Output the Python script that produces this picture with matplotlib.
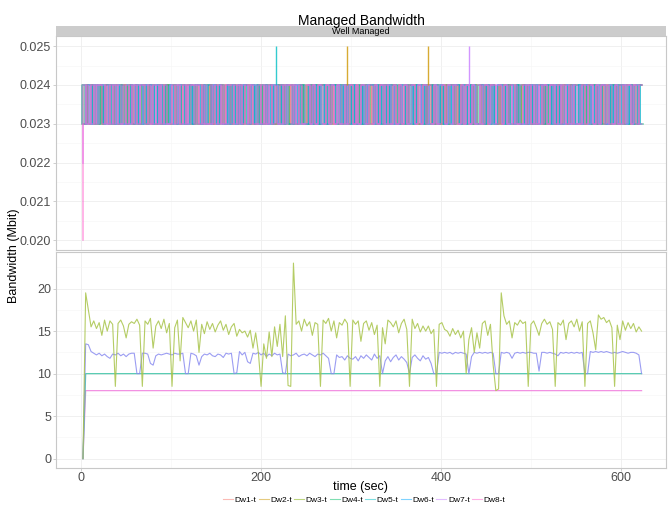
#!/usr/bin/env python3
import numpy as np
import matplotlib
matplotlib.use("Agg")
import matplotlib.pyplot as plt

plt.rcParams["font.family"] = ["Liberation Sans", "DejaVu Sans"]

# sample times (sec), one sample every 3 s
t = np.arange(2, 626, 3)

names = ["Dw1-t", "Dw2-t", "Dw3-t", "Dw4-t", "Dw5-t", "Dw6-t", "Dw7-t", "Dw8-t"]
colors = ["#F8766D", "#CD9600", "#7CAE00", "#00BE67",
          "#00BFC4", "#00A9FF", "#C77CFF", "#FF61CC"]

# first sample time of each logger in the top panel (sec)
top_start = [1.0, 2.5, 1.8, 3.2, 1.4, 2.9, 2.3, 2.0]

# top panel: bandwidth level per sample
# '0' = 0.023, '1' = 0.024, 'a' = 0.020, 'b' = 0.022
levels = {"0": 0.023, "1": 0.024, "a": 0.020, "b": 0.022}
top_codes = [
    ("0101101010" "1010010101" "0110101001" "0101011010" "1001010110" "1010101001" "0110100101"
     "0101101010" "1010010101" "1001011010" "1010100101" "0110101010" "0101100101" "1010101001"
     "0101010110" "1001010101" "1010110100" "1010010101" "0101101010" "1010100101" "01011010"),
    ("0010110101" "0101101010" "1001010110" "1010100101" "0110101010" "0101011010" "1010010101"
     "1001101010" "0101010101" "1010110110" "1010010101" "0110101010" "1001011010" "1010100101"
     "0101101010" "1010010110" "0101101001" "1010101010" "0110010101" "1001101010" "10100101"),
    ("0110100101" "1001011010" "0101101001" "1010010110" "0101101010" "1010010101" "0110101001"
     "1001010110" "0110101010" "0101100101" "1010101001" "0101011010" "1010100101" "0110010110"
     "1001101001" "0110010101" "1010101010" "0101100101" "1010011010" "0101010110" "01101001"),
    ("0011010101" "1010100110" "1001011010" "0101101001" "1010010101" "0110101010" "1001010110"
     "0110101001" "1010010101" "0101101010" "1001010110" "1010101001" "0110101010" "1001010101"
     "0110100110" "1010011010" "0101010101" "1010101001" "0101100110" "1010010101" "10010110"),
    ("0101011010" "0110100101" "1010101010" "1001010110" "0101101001" "1010010101" "0101101010"
     "1010101001" "0110010101" "1001101010" "0101010110" "1010100101" "1001011010" "0110100101"
     "1010101001" "0101011010" "1010010101" "0110101010" "1001010101" "0101101010" "10101001"),
    ("0010101101" "0101010010" "1010110101" "0101001010" "1011010101" "0100101010" "1101010010"
     "1010101101" "0100101010" "1011010101" "0100101101" "0101010010" "1010110101" "0101001011"
     "0101010010" "1010110101" "0100101010" "1011010100" "1010101101" "0101001010" "11010101"),
    ("b101010110" "1010100101" "0101101010" "1001010101" "0110101001" "0101011010" "1010100101"
     "0110010110" "1001101010" "0101010101" "1010101001" "0110101010" "1001010110" "0101101010"
     "0101010101" "1010110100" "1001010101" "0110101010" "1010010101" "0101101010" "01010110"),
    ("a010101101" "0101001010" "1011010101" "0100101010" "1101010010" "1010110101" "0101001010"
     "1010101101" "0100101011" "0101010010" "1010110101" "0101001010" "1011010101" "0100101101"
     "0101010010" "1011010101" "0100101010" "1010110101" "0101001011" "0101010010" "10110101"),
]

# short peaks to 0.025 in the top panel
spike_series = ["Dw5-t", "Dw2-t", "Dw2-t", "Dw7-t"]
spike_t = [217, 296, 386, 431]
spike_low = 0.024
spike_high = 0.025

# bottom panel (Mbit)
green = [0, 19.5, 17.5, 15.5, 16.2, 15.3, 16.0, 14.5, 16.3, 15.0,
         16.2, 15.8, 8.5, 15.9, 16.3, 15.6, 14.2, 15.8, 16.1, 15.9,
         16.4, 15.7, 8.5, 16.2, 15.8, 16.5, 13.0, 15.6, 16.2, 15.3,
         16.4, 14.8, 15.9, 8.5, 15.4, 16.3, 11.5, 16.6, 16.0, 15.4,
         16.2, 15.0, 16.3, 12.5, 15.8, 14.7, 16.1, 15.2, 15.9, 14.9,
         15.7, 16.2, 15.1, 15.8, 14.6, 15.5, 15.9, 14.4, 15.2, 14.8,
         15.0, 14.3, 15.1, 13.0, 14.8, 12.5, 8.5, 13.5, 11.8, 14.9,
         12.0, 15.5, 13.2, 15.8, 12.0, 16.8, 8.6, 8.5, 23.0, 15.8,
         16.2, 15.0, 16.4, 15.6, 16.1, 14.5, 16.0, 15.8, 8.5, 16.3,
         15.9, 16.5, 15.0, 16.2, 14.2, 16.0, 15.7, 16.4, 15.9, 8.5,
         16.3, 15.8, 16.2, 13.8, 15.9, 16.2, 15.1, 16.0, 14.6, 15.7,
         8.5, 15.4, 13.5, 16.3, 16.0, 15.5, 16.2, 14.8, 15.9, 16.4,
         15.2, 8.5, 16.4, 15.3, 15.9, 14.9, 15.6, 15.0, 15.6, 14.7,
         15.2, 8.5, 15.8, 16.0, 15.2, 15.0, 14.4, 15.3, 14.6, 15.1,
         14.2, 15.0, 10.0, 14.0, 15.4, 12.5, 14.8, 13.0, 15.9, 16.2,
         14.5, 15.8, 11.0, 8.0, 8.2, 19.5, 16.8, 15.8, 16.2, 14.2,
         16.0, 15.7, 16.3, 15.9, 16.1, 8.5, 15.8, 16.2, 15.4, 14.5,
         15.9, 16.4, 15.8, 16.1, 15.2, 8.5, 16.0, 15.7, 16.3, 14.0,
         15.9, 16.2, 15.5, 16.4, 15.0, 16.1, 8.5, 15.9, 16.2, 14.8,
         12.8, 16.9, 16.4, 16.6, 16.0, 16.3, 15.4, 8.5, 15.7, 14.0,
         16.2, 15.1, 16.0, 15.3, 15.9, 14.9, 15.5, 15.0]
blue = [0, 13.5, 13.4, 12.6, 12.4, 12.2, 12.4, 12.1, 12.3, 12.0,
        11.8, 12.3, 12.2, 12.4, 12.1, 12.3, 12.0, 12.3, 12.4, 12.4,
        10.0, 10.0, 12.4, 12.4, 12.3, 11.2, 11.0, 12.1, 12.3, 12.2,
        12.3, 12.4, 12.3, 12.2, 12.4, 12.3, 12.3, 12.4, 10.0, 10.0,
        12.4, 12.3, 12.1, 11.0, 12.0, 12.3, 12.2, 12.4, 12.1, 12.0,
        12.3, 12.2, 11.9, 12.4, 12.3, 12.4, 10.0, 10.1, 12.6, 12.2,
        12.5, 11.4, 11.2, 12.4, 12.3, 12.5, 12.2, 12.4, 12.0, 12.3,
        12.1, 12.4, 12.2, 12.3, 10.1, 10.0, 12.3, 12.1, 12.2, 12.4,
        12.0, 12.2, 12.3, 12.1, 12.4, 12.2, 12.0, 12.3, 12.2, 12.4,
        12.1, 11.8, 10.0, 10.0, 12.2, 11.9, 12.0, 11.6, 12.1, 11.8,
        11.7, 12.0, 11.5, 12.1, 11.8, 12.2, 11.9, 11.6, 12.3, 11.8,
        12.1, 10.0, 11.5, 12.0, 11.4, 11.9, 12.2, 11.6, 12.0, 11.7,
        11.3, 10.0, 11.9, 12.2, 11.8, 11.5, 12.1, 11.7, 11.9, 11.2,
        10.0, 10.0, 12.5, 12.4, 12.5, 12.4, 12.5, 12.3, 12.5, 12.4,
        12.5, 12.4, 12.3, 10.0, 12.0, 12.5, 12.4, 12.5, 12.4, 12.5,
        12.4, 12.5, 12.4, 10.0, 10.0, 12.5, 12.4, 12.5, 12.4, 11.8,
        12.4, 12.5, 12.4, 12.5, 12.4, 12.5, 12.5, 12.4, 12.4, 10.3,
        12.5, 12.5, 12.4, 12.5, 12.4, 12.3, 12.1, 12.5, 12.4, 12.5,
        12.4, 12.5, 12.4, 12.5, 12.4, 12.5, 10.0, 10.0, 12.6, 12.5,
        12.6, 12.5, 12.6, 12.5, 12.6, 12.5, 12.4, 12.5, 12.4, 12.5,
        12.6, 12.5, 12.4, 12.5, 12.5, 12.4, 12.2, 10.0]
flat_t = [2, 5, 623]
teal = [0, 10, 10]
pink = [0, 8, 8]

grid_c = "#EEEEEE"
minor_c = "#F6F6F6"
border_c = "#C8C8C8"
text_c = "#4D4D4D"

fig = plt.figure(figsize=(6.68, 5.07), dpi=100)
ax_top = fig.add_axes([0.0838, 0.5069, 0.913, 0.422])
ax_bot = fig.add_axes([0.0838, 0.0769, 0.913, 0.426])
strip = fig.add_axes([0.0838, 0.929, 0.913, 0.0197])

for name, col, code, t0 in zip(names, colors, top_codes, top_start):
    vals = [levels[c] for c in code]
    tt = t0 + 3 * np.arange(len(vals))
    ax_top.plot(tt, vals, color=col, lw=1.1, alpha=0.6, drawstyle="steps-pre")

for s, ts in zip(spike_series, spike_t):
    ax_top.vlines(ts, spike_low, spike_high, color=colors[names.index(s)], lw=1.0, alpha=0.8)

ax_bot.plot(flat_t, pink, color="#F07FDD", lw=0.9, alpha=0.85)
ax_bot.plot(flat_t, teal, color="#3DC4A6", lw=0.9, alpha=0.85)
ax_bot.plot(t, blue, color="#8A8CF0", lw=0.8, alpha=0.85)
ax_bot.plot(t, green, color="#A8C44A", lw=0.8, alpha=0.85)

for ax in (ax_top, ax_bot):
    ax.set_xlim(-28, 650)
    ax.set_xticks([0, 200, 400, 600])
    ax.set_xticks([100, 300, 500], minor=True)
    ax.grid(True, which="major", color=grid_c, lw=0.6)
    ax.grid(True, which="minor", color=minor_c, lw=0.4)
    ax.set_axisbelow(True)
    for sp in ax.spines.values():
        sp.set_color(border_c)
        sp.set_linewidth(0.8)
    ax.tick_params(which="both", length=2.5, width=0.6, color=border_c,
                   labelsize=9, labelcolor=text_c, pad=1)
    ax.tick_params(which="minor", length=0)

ax_top.set_ylim(0.01975, 0.02526)
ax_top.set_yticks([0.020, 0.021, 0.022, 0.023, 0.024, 0.025])
ax_top.set_yticklabels(["0.020", "0.021", "0.022", "0.023", "0.024", "0.025"])
ax_top.set_yticks([0.0205, 0.0215, 0.0225, 0.0235, 0.0245], minor=True)
ax_top.tick_params(axis="x", which="both", length=0, labelbottom=False)

ax_bot.set_ylim(-1.1, 24.3)
ax_bot.set_yticks([0, 5, 10, 15, 20])
ax_bot.set_yticks([2.5, 7.5, 12.5, 17.5, 22.5], minor=True)
ax_bot.tick_params(axis="x", pad=0.5)
ax_bot.set_xlabel("time (sec)", fontsize=9)
ax_bot.xaxis.set_label_coords(0.5, -0.058)

strip.set_facecolor("#CCCCCC")
strip.set_xticks([])
strip.set_yticks([])
for sp in strip.spines.values():
    sp.set_visible(False)
strip.text(0.5, 0.45, "Well Managed", ha="center", va="center",
           fontsize=6.5, transform=strip.transAxes)

fig.text(0.5405, 0.9507, "Managed Bandwidth", ha="center", va="baseline", fontsize=10)
fig.text(0.021, 0.495, "Bandwidth (Mbit)", rotation=90, ha="center", va="center", fontsize=9)

handles = [plt.Line2D([], [], color=c, lw=0.8, alpha=0.5) for c in colors]
fig.legend(handles, names, loc="center", bbox_to_anchor=(0.545, 0.014), ncol=8,
           frameon=False, fontsize=6, handlelength=1.2, handletextpad=0.2,
           columnspacing=0.25, borderaxespad=0)

fig.savefig("out.png", dpi=100)
